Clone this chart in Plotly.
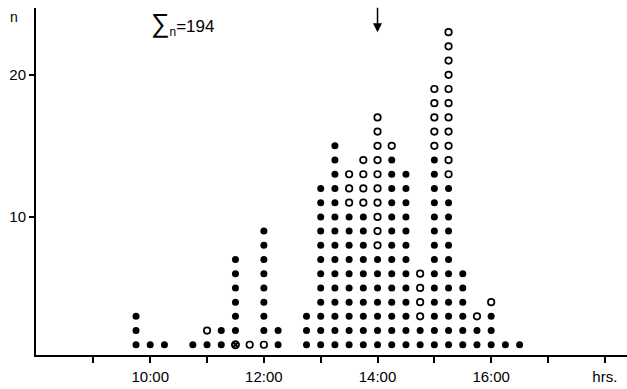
import plotly.graph_objects as go

# Quarter-hour bins (clock time) and the stack of dots in each, bottom to top.
# F = filled circle, O = open circle, P = partly filled circle
times = ["9:45", "10:00", "10:15", "10:45", "11:00", "11:15", "11:30", "11:45",
         "12:00", "12:15", "12:45", "13:00", "13:15", "13:30", "13:45", "14:00",
         "14:15", "14:30", "14:45", "15:00", "15:15", "15:30", "15:45", "16:00",
         "16:15", "16:30"]
stacks = ["FFF", "F", "F", "F", "FO", "FF", "PFFFFFF", "O",
          "OFFFFFFFF", "FF", "FFF", "FFFFFFFFFFFF", "FFFFFFFFFFFFFFF",
          "FFFFFFFFFFOOO", "FFFFFFFFFFOOOO", "FFFFFFFOOOOOOOOOO",
          "FFFFFFFFFFFFFFO", "FFFFFFFFFFFFF", "FFOOOO", "FFFFFFFFFFFFFFOOOOO",
          "FFFFFFFFFFFFOOOOOOOOOOO", "FFFFFF", "FFO", "FFFO", "F", "F"]
total_n = 194
hour_ticks = [9, 10, 11, 12, 13, 14, 15, 16, 17, 18]
hour_labels = ["", "10:00", "", "12:00", "", "14:00", "", "16:00", "", "hrs."]
y_ticks = [10, 20]
arrow_time = 14.0

def to_hours(t):
    h, m = t.split(":")
    return int(h) + int(m) / 60.0

pts = {"F": ([], []), "O": ([], []), "P": ([], [])}
for t, s in zip(times, stacks):
    for level, code in enumerate(s, start=1):
        pts[code][0].append(to_hours(t))
        pts[code][1].append(level)

fig = go.Figure()
fig.add_trace(go.Scatter(x=pts["F"][0], y=pts["F"][1], mode="markers",
                         marker=dict(symbol="circle", size=7, color="black"),
                         showlegend=False))
fig.add_trace(go.Scatter(x=pts["O"][0], y=pts["O"][1], mode="markers",
                         marker=dict(symbol="circle", size=6.5, color="white",
                                     line=dict(color="black", width=1.7)),
                         showlegend=False))
fig.add_trace(go.Scatter(x=pts["P"][0], y=pts["P"][1], mode="markers",
                         marker=dict(symbol="circle-x", size=7, color="white",
                                     line=dict(color="black", width=2)),
                         showlegend=False))

font_family = "Liberation Sans Narrow, Liberation Sans, Arial, sans-serif"

fig.update_layout(
    width=627, height=389,
    margin=dict(l=36, r=0, t=8, b=34, autoexpand=False),
    paper_bgcolor="white", plot_bgcolor="white",
    font=dict(family=font_family, size=14, color="black"),
    xaxis=dict(range=[7.99, 18.39], showgrid=False, zeroline=False,
               showline=True, linecolor="black", linewidth=2,
               tickmode="array", tickvals=hour_ticks, ticktext=hour_labels,
               ticks="outside", ticklen=6, tickwidth=1.5, tickcolor="black",
               tickfont=dict(size=15), ticklabelstandoff=1, fixedrange=True,
               automargin=False),
    yaxis=dict(range=[0.28, 24.7], showgrid=False, zeroline=False,
               showline=True, linecolor="black", linewidth=2,
               tickmode="array", tickvals=y_ticks,
               ticks="outside", ticklen=5, tickwidth=1.5, tickcolor="black",
               tickfont=dict(size=15), fixedrange=True, automargin=False),
    annotations=[
        dict(text="n", xref="paper", yref="paper", x=-0.038, y=0.975,
             xanchor="center", yanchor="middle", showarrow=False,
             font=dict(size=14)),
        dict(text="<span style='font-size:26px'>\u2211</span><sub>n</sub>=%d" % total_n,
             xref="x", yref="paper",
             x=9.97, y=0.955, xanchor="left", yanchor="middle", showarrow=False,
             font=dict(size=17)),
        dict(text="", x=arrow_time, y=23.0, xref="x", yref="y",
             showarrow=True, ax=0, ay=-26, arrowhead=2, arrowsize=1.2,
             arrowwidth=1.5, arrowcolor="black"),
    ],
)

fig.write_html("out.html", config={"displayModeBar": False},
               post_script="document.body.style.margin='0';")
